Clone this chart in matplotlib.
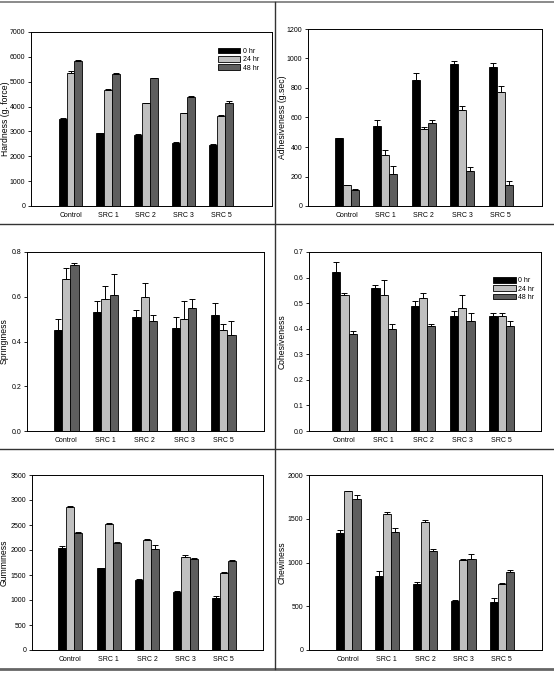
import numpy as np
import matplotlib
import matplotlib.pyplot as plt
from matplotlib.lines import Line2D

matplotlib.use("Agg")
plt.rcParams['font.family'] = ['Liberation Sans', 'DejaVu Sans']

categories = ["Control", "SRC 1", "SRC 2", "SRC 3", "SRC 5"]
series = ["0 hr", "24 hr", "48 hr"]
colors = ["#000000", "#c0c0c0", "#5e5e5e"]

hardness = [[3520, 2920, 2850, 2540, 2450],
            [5370, 4680, 4140, 3730, 3640],
            [5840, 5320, 5140, 4380, 4160]]
hardness_err = [[30, 30, 30, 30, 30],
                [70, 20, 20, 20, 20],
                [40, 30, 20, 40, 80]]

adhesiveness = [[460, 545, 855, 960, 940],
                [140, 345, 520, 650, 770],
                [110, 220, 560, 240, 145]]
adhesiveness_err = [[0, 35, 45, 25, 30],
                    [0, 35, 15, 30, 45],
                    [5, 50, 25, 25, 25]]

springiness = [[0.45, 0.53, 0.51, 0.46, 0.52],
               [0.68, 0.59, 0.60, 0.50, 0.45],
               [0.74, 0.61, 0.49, 0.55, 0.43]]
springiness_err = [[0.05, 0.05, 0.03, 0.05, 0.05],
                   [0.05, 0.06, 0.06, 0.08, 0.03],
                   [0.01, 0.09, 0.03, 0.04, 0.06]]

cohesiveness = [[0.62, 0.56, 0.49, 0.45, 0.45],
                [0.53, 0.53, 0.52, 0.48, 0.45],
                [0.38, 0.40, 0.41, 0.43, 0.41]]
cohesiveness_err = [[0.04, 0.01, 0.02, 0.02, 0.01],
                    [0.01, 0.06, 0.02, 0.05, 0.01],
                    [0.01, 0.02, 0.01, 0.03, 0.02]]

gumminess = [[2050, 1650, 1410, 1160, 1040],
             [2870, 2530, 2210, 1860, 1540],
             [2340, 2150, 2020, 1820, 1790]]
gumminess_err = [[30, 0, 10, 20, 40],
                 [20, 10, 10, 40, 20],
                 [30, 20, 80, 20, 20]]

chewiness = [[1340, 850, 755, 565, 550],
             [1815, 1555, 1465, 1025, 750],
             [1730, 1350, 1130, 1040, 890]]
chewiness_err = [[30, 50, 20, 5, 40],
                 [5, 25, 20, 10, 20],
                 [45, 45, 25, 55, 30]]

W, H = 554, 673
fig = plt.figure(figsize=(W / 100, H / 100), dpi=100)


def px_axes(x0, y0, x1, y1):
    return fig.add_axes([x0 / W, 1 - y1 / H, (x1 - x0) / W, (y1 - y0) / H])


def panel(box, data, err, ylabel, ymax, ystep, fmt, xlim, label_x, legend=None):
    ax = px_axes(*box)
    x = np.arange(len(categories))
    bw = 0.21
    for i, (vals, e) in enumerate(zip(data, err)):
        pos = x + (i - 1) * bw
        ax.bar(pos, vals, bw, color=colors[i], edgecolor="black", linewidth=0.6,
               label=series[i], zorder=2)
        ax.errorbar(pos, vals, yerr=[np.zeros(len(e)), e], fmt="none",
                    ecolor="black", elinewidth=0.7, capsize=2.2, capthick=0.7, zorder=3)
    ax.set_xlim(*xlim)
    ax.set_ylim(0, ymax)
    ticks = np.arange(0, ymax + ystep / 2, ystep)
    ax.set_yticks(ticks)
    ax.set_yticklabels([fmt.format(t) for t in ticks])
    ax.set_xticks(x)
    ax.set_xticklabels(categories)
    ax.tick_params(axis="x", length=0, labelsize=5, pad=4)
    ax.tick_params(axis="y", length=2, width=0.6, labelsize=5, pad=2)
    ax.set_ylabel(ylabel, fontsize=6.2)
    # label position given in picture pixels (right edge of rotated text)
    ax.yaxis.set_label_coords((label_x - box[0]) / (box[2] - box[0]), 0.5)
    for s in ax.spines.values():
        s.set_linewidth(0.7)
    if legend is not None:
        ax.legend(loc="upper left", bbox_to_anchor=legend, frameon=False, fontsize=5,
                  handlelength=3.2, handleheight=0.9, labelspacing=0.15,
                  handletextpad=0.4, borderpad=0)
    return ax


panel((31, 32, 272, 206), hardness, hardness_err, "Hardness (g. force)", 7000, 1000,
      "{:.0f}", (-1.05, 5.35), 10, legend=(0.76, 0.93))
panel((308, 29, 542, 206), adhesiveness, adhesiveness_err, "Adhesiveness (g.sec)", 1200, 200,
      "{:.0f}", (-1.01, 5.07), 287)
panel((27, 252, 264, 431), springiness, springiness_err, "Springiness", 0.8, 0.2,
      "{:.1f}", (-1.0, 5.04), 9)
panel((309, 252, 541, 431), cohesiveness, cohesiveness_err, "Cohesiveness", 0.7, 0.1,
      "{:.1f}", (-0.9, 5.0), 287, legend=(0.78, 0.88))
panel((32, 475, 263, 650), gumminess, gumminess_err, "Gumminess", 3500, 500,
      "{:.0f}", (-1.0, 5.02), 9)
panel((309, 475, 542, 650), chewiness, chewiness_err, "Chewiness", 2000, 500,
      "{:.0f}", (-1.03, 5.05), 287)

# table-like cell borders
border = dict(color="#333333", linewidth=1.0, transform=fig.transFigure)
fig.add_artist(Line2D([0, 1], [1 - 2 / H, 1 - 2 / H], color="#777777", linewidth=1.2,
                      transform=fig.transFigure))
fig.add_artist(Line2D([0, 1], [1 - 224 / H, 1 - 224 / H], **border))
fig.add_artist(Line2D([0, 1], [1 - 449 / H, 1 - 449 / H], **border))
fig.add_artist(Line2D([0, 1], [1 - 669 / H, 1 - 669 / H], color="#666666", linewidth=2.0,
                      transform=fig.transFigure))
fig.add_artist(Line2D([275 / W, 275 / W], [1 - 669 / H, 1 - 2 / H], **border))

fig.savefig("out.png", dpi=100)
